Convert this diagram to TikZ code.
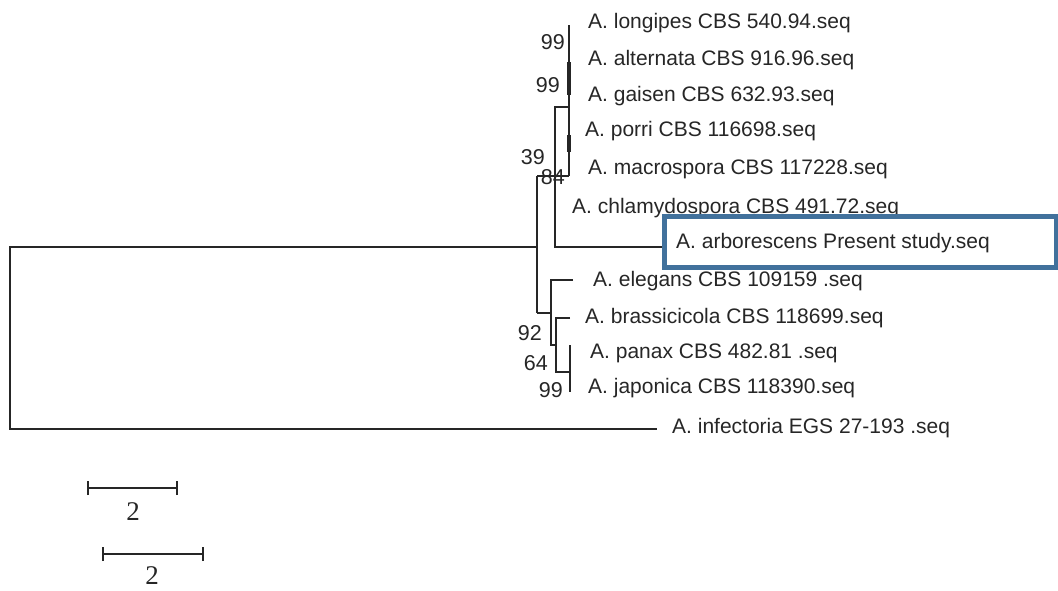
\documentclass[tikz,border=0pt]{standalone}
\usepackage{fontspec}
\setmainfont{Liberation Sans}
\newfontfamily\barfont{Liberation Serif}
\definecolor{boxblue}{HTML}{41719C}
\definecolor{ink}{HTML}{262626}
\begin{document}
\begin{tikzpicture}[x=1pt,y=-1pt,
  br/.style={line width=1.5pt, draw=ink},
  thickbr/.style={line width=3.6pt, draw=ink},
  leaf/.style={anchor=base west, inner sep=0pt, font=\fontsize{21}{24}\selectfont, text=ink},
  boot/.style={anchor=east, inner sep=0pt, font=\fontsize{21.5}{24}\selectfont, text=ink},
  sbar/.style={line width=1.6pt, draw=ink},
  sbarlab/.style={inner sep=0pt, font=\barfont\fontsize{27}{30}\selectfont, text=ink},
]
\useasboundingbox (0,0) rectangle (1058,590);
% internal node coordinates
\coordinate (R1) at (10,247);
\coordinate (R2) at (10,429);
\coordinate (A) at (537,247);
\coordinate (Atop) at (537,176);
\coordinate (Abot) at (537,313);
\coordinate (T1) at (569,25);
\coordinate (T2) at (569,176);
\coordinate (C1) at (555,107);
\coordinate (C2) at (555,247);
\coordinate (B1) at (551,280);
\coordinate (B2) at (551,345);
\coordinate (D1) at (556,318);
\coordinate (D2) at (556,372);
\coordinate (E1) at (570,345);
\coordinate (E2) at (570,392);
\coordinate (infend) at (657,429);
\coordinate (elend) at (573,280);
\coordinate (brend) at (570,318);

% leaf labels
\node[leaf] (lon) at (588,28) {A. longipes CBS 540.94.seq};
\node[leaf] (alt) at (588,65) {A. alternata CBS 916.96.seq};
\node[leaf] (gai) at (588,101) {A. gaisen CBS 632.93.seq};
\node[leaf] (por) at (585,136) {A. porri CBS 116698.seq};
\node[leaf] (mac) at (588,174) {A. macrospora CBS 117228.seq};
\node[leaf] (chl) at (572,213) {A. chlamydospora CBS 491.72.seq};
\node[leaf] (ele) at (593,286) {A. elegans CBS 109159 .seq};
\node[leaf] (bra) at (585,323) {A. brassicicola CBS 118699.seq};
\node[leaf] (pan) at (590,358) {A. panax CBS 482.81 .seq};
\node[leaf] (jap) at (588,393) {A. japonica CBS 118390.seq};
\node[leaf] (inf) at (672,433) {A. infectoria EGS 27-193 .seq};

% highlighted box
\node[draw=boxblue, line width=4.8pt, fill=white, anchor=north west,
      minimum width=392pt, minimum height=51pt, inner sep=0pt] (arbbox) at (662,214) {};
\node[leaf] (arb) at (676,248) {A. arborescens Present study.seq};

% branches
\draw[br] (A) -- (R1) -- (R2) -- (infend);
\draw[br] (Atop) -- (Abot);
\draw[br] (Atop) -- (T2);
\draw[br] (T1) -- (T2);
\draw[thickbr] (569,62) -- (569,95);
\draw[thickbr] (569,135) -- (569,152);
\draw[br] (T1 |- C1) -- (C1) -- (C2) -- (arbbox.west |- C2);
\draw[br] (Abot) -- (B1 |- Abot);
\draw[br] (elend) -- (B1) -- (B2) -- (D1 |- B2);
\draw[br] (brend) -- (D1) -- (D2) -- (E1 |- D2);
\draw[br] (E1) -- (E2);

% bootstrap values
\node[boot] (b1) at (565,42) {99};
\node[boot] (b2) at (560,85) {99};
\node[boot] (b3) at (545,157) {39};
\node[boot] (b4) at (565,177) {84};
\node[boot] (b5) at (542,333) {92};
\node[boot] (b6) at (548,363) {64};
\node[boot] (b7) at (563,390) {99};

% scale bars
\coordinate (s1a) at (88,488);
\coordinate (s1b) at (177,488);
\draw[sbar] (s1a) -- (s1b);
\draw[sbar] ([yshift=-7pt]s1a) -- ([yshift=7pt]s1a);
\draw[sbar] ([yshift=-7pt]s1b) -- ([yshift=7pt]s1b);
\node[sbarlab] (s1l) at (133,512) {2};
\coordinate (s2a) at (103,554);
\coordinate (s2b) at (203,554);
\draw[sbar] (s2a) -- (s2b);
\draw[sbar] ([yshift=-7pt]s2a) -- ([yshift=7pt]s2a);
\draw[sbar] ([yshift=-7pt]s2b) -- ([yshift=7pt]s2b);
\node[sbarlab] (s2l) at (152,576) {2};
\end{tikzpicture}
\end{document}
